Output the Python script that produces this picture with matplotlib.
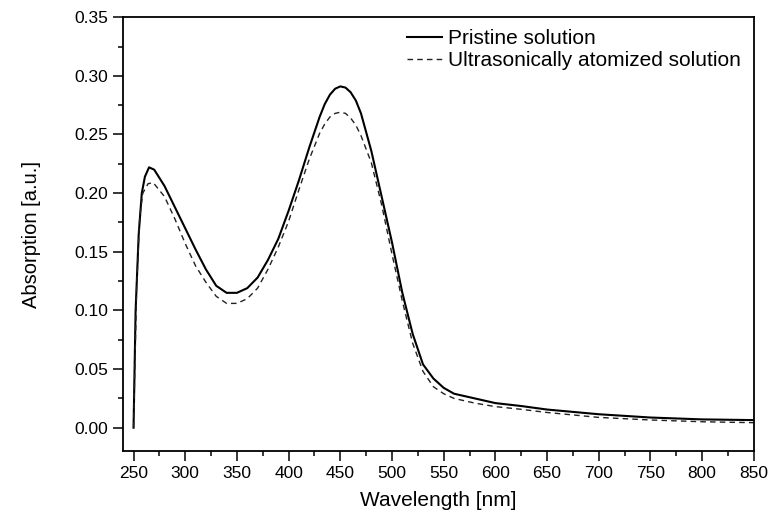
import matplotlib
matplotlib.use("Agg")
import matplotlib.pyplot as plt
from matplotlib.ticker import MultipleLocator, FormatStrFormatter

# ── Data ──────────────────────────────────────────────────────
wl_pristine = [250, 252, 255, 258, 261, 265, 270, 280, 290, 300, 310, 320, 330,
               340, 350, 360, 370, 380, 390, 400, 410, 420, 430, 435, 440, 445,
               450, 455, 460, 465, 470, 480, 490, 500, 510, 520, 530, 540, 550,
               560, 580, 600, 625, 650, 700, 750, 800, 850]
abs_pristine = [0.000, 0.100, 0.165, 0.200, 0.214, 0.222, 0.220, 0.206, 0.188,
                0.170, 0.152, 0.135, 0.121, 0.115, 0.115, 0.119, 0.128, 0.143,
                0.161, 0.185, 0.211, 0.239, 0.265, 0.276, 0.284, 0.289, 0.291,
                0.290, 0.286, 0.279, 0.268, 0.236, 0.197, 0.158, 0.115, 0.080,
                0.054, 0.042, 0.034, 0.029, 0.025, 0.021, 0.0185, 0.0155,
                0.0115, 0.0087, 0.0071, 0.0065]

wl_atomized = [250, 253, 256, 259, 264, 269, 280, 290, 300, 310, 320, 330, 340,
               350, 360, 370, 380, 390, 400, 410, 420, 430, 435, 440, 445, 450,
               455, 460, 465, 470, 480, 490, 500, 510, 520, 530, 540, 550, 560,
               580, 600, 625, 650, 700, 750, 800, 850]
abs_atomized = [0.000, 0.120, 0.180, 0.200, 0.208, 0.209, 0.197, 0.178, 0.157,
                0.138, 0.124, 0.112, 0.106, 0.106, 0.110, 0.119, 0.135, 0.154,
                0.176, 0.203, 0.229, 0.251, 0.259, 0.265, 0.268, 0.269, 0.268,
                0.264, 0.258, 0.249, 0.226, 0.190, 0.148, 0.108, 0.072, 0.048,
                0.035, 0.029, 0.025, 0.021, 0.018, 0.0157, 0.013, 0.0088,
                0.0066, 0.0051, 0.0043]

plt.rcParams["font.family"] = ["Liberation Sans", "DejaVu Sans"]

fig = plt.figure(figsize=(7.7, 5.21), dpi=100)
ax = fig.add_axes([0.160, 0.134, 0.819, 0.833])

ax.plot(wl_pristine, abs_pristine, color="black", lw=1.5, label="Pristine solution")
ax.plot(wl_atomized, abs_atomized, color="#222222", lw=1.0, dashes=(4, 3),
        label="Ultrasonically atomized solution")

ax.set_xlim(240, 850)
ax.set_ylim(-0.02, 0.35)
ax.xaxis.set_major_locator(MultipleLocator(50))
ax.xaxis.set_minor_locator(MultipleLocator(25))
ax.yaxis.set_major_locator(MultipleLocator(0.05))
ax.yaxis.set_minor_locator(MultipleLocator(0.025))
ax.yaxis.set_major_formatter(FormatStrFormatter("%.2f"))

ax.tick_params(which="major", direction="out", length=7, width=1.1,
               labelsize=12.5, pad=4)
ax.tick_params(which="minor", direction="out", length=3.5, width=1.1)
ax.tick_params(top=False, right=False)
for s in ax.spines.values():
    s.set_linewidth(1.3)

ax.set_xlabel("Wavelength [nm]", fontsize=15, va="center")
ax.set_ylabel("Absorption [a.u.]", fontsize=14.5, va="center")
ax.xaxis.set_label_coords(0.5, -0.113)
ax.yaxis.set_label_coords(-0.146, 0.5)

ax.legend(loc="upper right", frameon=False, fontsize=15, handlelength=1.7,
          handletextpad=0.3, labelspacing=0.15, borderpad=0, borderaxespad=0,
          bbox_to_anchor=(0.980, 0.972))

fig.savefig("out.png", dpi=100)
